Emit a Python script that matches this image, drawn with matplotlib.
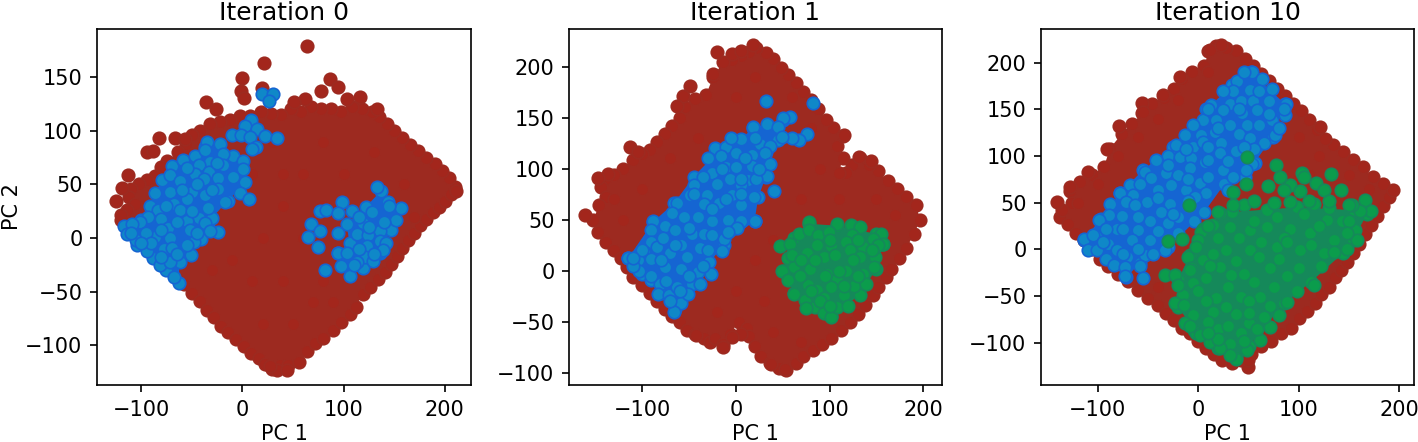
"""Three PCA scatter panels: cluster labels at iteration 0, 1 and 10."""

import matplotlib
matplotlib.use("Agg")
import matplotlib.pyplot as plt

# Values. The middle of each cloud is too dense to read
# point by point, so *_edge_* lists the dots round its rim in order (the rim is
# also filled) and the plain lists are loose or visible dots.

# --- Iteration 0 ---
it0_red_edge_x = [-120, -113, -105, -98, -90, -82, -74, -66, -58, -50, -42, -35, -28, -21, -14, -6, 2, 9, 16, 22, 29, 37, 45, 56, 64, 72, 80, 90, 98, 106, 112, 119, 126, 134, 141, 147, 153, 158, 164, 170, 176, 182, 188, 194, 200, 206, 210, 204, 197, 190, 182, 174, 166, 158, 150, 143, 135, 128, 118, 108, 98, 88, 78, 68, 58, 48, 38, 28, 18, 8, -2, -12, -22, -32, -42, -50, -56, -64, -74, -80, -86, -94, -102, -110, -112, -106, -114, -120]
it0_red_edge_y = [17, 9, 2, -5, -12, -20, -28, -36, -43, -51, -59, -67, -74, -82, -88, -94, -101, -107, -112, -117, -122, -118, -118, -116, -105, -98, -93, -86, -78, -71, -64, -52, -46, -38, -32, -24, -17, -9, -2, 5, 12, 18, 24, 29, 35, 41, 48, 56, 63, 69, 75, 81, 87, 93, 100, 106, 113, 118, 120, 122, 118, 120, 120, 122, 118, 120, 115, 116, 118, 114, 114, 110, 108, 106, 100, 96, 88, 80, 72, 66, 58, 54, 50, 46, 38, 32, 26, 22]
it0_red_x = [64, 21, 0, -1, 2, 19, -36, -26, -82, -67, -57, -94, -88, -113, -119, -125, 87, 95, 78, 116, 103, 62, 51, 133, 34, 44, 27, 211,
             20, 40, 60, 10, 30, 80, 60, 40, 80, 10, -10, 100, 130, 160, 170, -30, 20, 50, 70, 90, 40, 80]
it0_red_y = [179, 163, 149, 137, 131, 140, 127, 120, 93, 93, 92, 80, 81, 59, 47, 35, 148, 141, 137, 132, 130, 130, 127, 120, -123, -123, -119, 44,
             0, 30, 60, 60, 90, 90, 0, -40, -40, -40, -20, 60, 80, 50, 20, -30, -80, -80, -60, -60, 60, 30]
it0_blue_rim_x = [-117, -100, -91, -86, -79, -69, -59, -47, -37, -22, -9, 1, 3, -14, -30, -24, -41, -51, -62, -63, -75, -88, -104]
it0_blue_rim_y = [11, 17, 30, 42, 54, 67, 73, 77, 85, 88, 77, 72, 52, 35, 19, 6, -1, -16, -22, -42, -30, -19, -6]
it0_blue2_rim_x = [103, 122, 137, 157, 147, 136, 119, 106, 98, 95, 106]
it0_blue2_rim_y = [13, 29, 44, 28, 8, -14, -28, -35, -26, -14, -5]
it0_blue_x = [19, 30, 26, 9, 3, 15, -10, -1, 8, 22, 34, 14, 10, -35, -37, -19, -32, -43, -19, 1, -33, -47, -71, -62, -38, -24, -9, -50, -71, -37, -24, -2, 7, -17, -55, -68, -83, -62, -34, -93, -80, -43, -55, -101, -109, -37, -73, -52, -32, -86, -105, -71, -48, -114, -94, -77, -69, -55, -81, -68, -71,
              133, 144, 152, 99, 77, 83, 95, 108, 128, 68, 65, 77, 119, 136, 113, 124, 75, 136, 123, 142, 95, 121, 113, 133, 82, 129, 139, 103,
              -110, -95, -80, -65, -50, -75, -60, -45, -30, -55, -25, -90, -100, -80, -65, -45, 115, 125, 140, 110, 130, 95, 145, 115]
it0_blue_y = [134, 134, 128, 110, 105, 102, 96, 96, 94, 95, 93, 85, 83, 90, 82, 78, 71, 68, 68, 64, 62, 60, 59, 53, 55, 56, 57, 43, 43, 40, 46, 42, 36, 34, 36, 32, 26, 26, 28, 20, 18, 19, 16, 15, 13, 14, 9, 8, 7, 1, -2, 0, -4, 4, -12, -10, -9, -6, -25, -36, -22,
              48, 34, 17, 34, 25, 26, 23, 25, 24, 13, 1, 7, 14, 7, 4, 3, -8, -3, -7, -5, -14, -18, -22, -14, -30, -21, -11, -14,
              5, 5, 8, 15, 25, 30, 45, 50, 45, 65, 70, -5, -5, -18, -15, 5, -10, 10, 15, -25, -15, 5, 30, 20]

# --- Iteration 1 ---
it1_red_edge_x = [-152, -147, -138, -130, -122, -116, -110, -100, -92, -84, -76, -68, -60, -52, -44, -34, -28, -22, -14, -6, 3, 12, 14, 20, 27, 36, 46, 54, 64, 72, 82, 92, 102, 112, 122, 130, 138, 146, 152, 160, 166, 174, 182, 190, 197, 192, 182, 172, 162, 152, 142, 132, 124, 118, 110, 114, 108, 114, 104, 96, 88, 80, 72, 64, 56, 48, 40, 32, 22, 14, 6, -4, -14, -24, -32, -44, -54, -60, -68, -76, -84, -92, -100, -110, -120, -130, -140, -144, -138, -146]
it1_red_edge_y = [50, 38, 28, 20, 12, 4, -6, -14, -22, -30, -38, -44, -50, -58, -62, -66, -70, -66, -72, -62, -50, -56, -64, -74, -84, -90, -95, -97, -90, -84, -78, -72, -66, -58, -50, -42, -34, -24, -16, -6, 2, 12, 22, 36, 50, 64, 72, 80, 88, 98, 104, 110, 104, 96, 96, 110, 122, 132, 140, 148, 158, 167, 175, 184, 192, 199, 207, 213, 218, 214, 210, 206, 204, 190, 172, 168, 160, 150, 142, 134, 126, 118, 114, 108, 100, 94, 90, 82, 72, 64]
it1_red_x = [-161, -20, -4, 6, 18, -24, -49, -56, -63, -113, -104, -136, -147, 115, 131, 144, -14, 6, -4, -42, 53, 38,
             0, 20, -40, -70, -100, -120, -130, 60, 80, 90, 70, 110, 150, 170, 30, 0, -20, 40, 70, 20, 40]
it1_red_y = [55, 214, 212, 215, 221, 193, 181, 171, 161, 121, 116, 95, 91, 133, 111, 107, -75, -62, -65, -63, -96, -91,
             170, 190, 130, 110, 80, 50, 70, 170, 140, 100, 70, 70, 70, 55, -30, -20, -40, -60, -70, 10, 30]
it1_blue_rim_x = [-115, -88, -66, -45, -20, 5, 18, 50, 45, 32, 24, 20, -13, -45, -65, -80, -100]
it1_blue_rim_y = [12, 48, 66, 92, 116, 128, 140, 148, 128, 92, 72, 49, 25, -11, -38, -22, -3]
it1_blue_x = [32, 82, 58, 50, 76, 67, 60, 41, 20, 18, 33, 45, 49, 5, -22, -11, 26, 37, 17, 0, -16, 31, 37, 17, -11, 0, -25, -35, 33, 13, 22, -45, -6, -20, 6, 19, -4, -31, -49, -63, -34, -18, 5, -68, -55, -40, -25, -8, 5, -88, -76, -65, 1, -90, -47, -34, -13, -91, -59, -38, -15, -84, -98, -70, -29, -115, -104, -91, -52, -76, -103, -40, -27, -59, -91, -81, -47, -38, -83, -71, -59, -66, -63, -51,
              -110, -100, -80, -65, -78, -50, -30, -25, -8, -45, -25, -10, 5, -15, -30, 5, 10, 25, -5, 20, -60, -50, -70, -35, -90, -75, -110]
it1_blue_y = [166, 164, 151, 150, 134, 128, 130, 78, 49, 141, 144, 141, 131, 129, 120, 121, 124, 122, 113, 115, 112, 115, 105, 103, 102, 102, 96, 92, 93, 89, 90, 84, 90, 85, 84, 72, 74, 74, 74, 66, 65, 66, 64, 57, 53, 53, 49, 50, 49, 49, 44, 40, 42, 40, 36, 36, 31, 28, 25, 22, 19, 23, 18, 17, 9, 12, 10, 11, 13, 4, 0, -1, -3, 2, -9, -13, -13, -13, -23, -24, -32, -40, -16, -23,
              5, 20, 10, 25, 32, 42, 20, 35, 38, 75, 60, 70, 75, 100, 110, 90, 110, 100, 130, 130, -20, -5, -30, 5, -5, -10, 12]
it1_green_rim_x = [50, 62, 78, 108, 150, 157, 150, 132, 102, 76, 62]
it1_green_rim_y = [0, 32, 46, 44, 36, 26, 2, -24, -44, -35, -22]
it1_green_x = [47, 78, 108, 123, 133, 155, 67, 78, 88, 99, 124, 146, 157, 58, 87, 102, 118, 136, 152, 56, 76, 94, 106, 122, 133, 149, 62, 49, 79, 97, 118, 136, 147, 56, 77, 108, 126, 139, 62, 87, 102, 74, 94, 115, 85, 94, 102, 108, 75,
               60, 68, 85, 100, 130, 145, 110, 125, 90, 115, 130, 70, 95, 80, 100, 120]
it1_green_y = [24, 48, 46, 45, 43, 36, 36, 40, 35, 38, 35, 31, 26, 26, 25, 24, 28, 23, 25, 12, 17, 13, 15, 20, 13, 13, 4, 0, 2, -3, 0, -3, 4, -9, -14, -8, -15, -13, -23, -19, -16, -29, -27, -24, -36, -41, -45, -36, -37,
               15, -5, 10, 30, 30, 20, 0, 10, -30, -15, -5, 10, -5, -20, -35, -35]

# --- Iteration 10 ---
it10_red_edge_x = [-138, -130, -122, -114, -106, -98, -90, -80, -70, -60, -50, -40, -32, -24, -16, -8, 0, 8, 16, 24, 34, 42, 52, 62, 72, 82, 92, 100, 108, 116, 122, 130, 136, 142, 148, 154, 160, 166, 172, 178, 184, 190, 194, 184, 174, 164, 154, 144, 134, 126, 118, 110, 102, 94, 86, 78, 70, 62, 54, 46, 38, 28, 18, 10, 6, -6, -16, -24, -34, -46, -56, -66, -76, -88, -94, -106, -118, -128, -126, -136]
it10_red_edge_y = [35, 27, 18, 10, 0, -10, -18, -26, -34, -44, -52, -60, -68, -76, -84, -90, -98, -106, -112, -118, -122, -118, -112, -104, -98, -90, -84, -74, -66, -58, -48, -40, -30, -22, -14, -4, 6, 16, 26, 36, 46, 56, 64, 70, 78, 88, 96, 104, 112, 118, 128, 138, 148, 156, 164, 172, 180, 188, 196, 204, 212, 216, 218, 212, 196, 190, 182, 172, 162, 156, 146, 134, 124, 108, 88, 80, 72, 62, 50, 42]
it10_red_x = [49, 49, -141, -79, -110, -56, -35, -18, -128, 12, 23, 121, -55, -91,
              -80, -60, -40, -100, -120, -20, 10, 100, 120, 150, 170, 110, -40, -60, -20]
it10_red_y = [-126, -119, 51, 132, 83, 157, 165, 185, 67, 214, 219, 131, 147, 108,
              100, 120, 140, 70, 50, 160, 190, 120, 100, 80, 65, 80, -40, -30, -60]
it10_blue_rim_x = [-114, -97, -78, -55, -25, 8, 34, 52, 86, 74, 56, 46, 26, 6, -30, -58, -72, -92]
it10_blue_rim_y = [10, 33, 60, 85, 110, 150, 176, 190, 156, 120, 93, 78, 70, 40, 2, -15, -30, -10]
it10_blue_x = [53, 63, 39, 51, 35, 73, 87, 13, 32, 42, 54, 70, 25, 43, 58, 86, 5, 18, 73, -5, 3, 32, 48, 60, 76, -13, 17, 40, 51, 65, -22, -5, 5, 23, 55, -30, -18, -7, 22, 38, -42, 7, 53, -53, -32, -20, -8, 10, 25, 47, 35, -47, 2, -12, -27, -68, 30, -65, -78, -40, 8, -51, -72, -88, -63, -28, -3, -89, -76, -37, -20, -99, -60, -81, -48, -30, -102, -90, -114, -66, -48, -33, -110, -101, -81, -71, -53, -58, -84, -73, -73, -55,
               -105, -92, -75, -60, -40, -25, -10, -40, -58, -30, -10, 10, 10, 30, 45, -12, 20, 40, 70, -95, -75, -60, -45, -20, -4, 80, 60, 45, 85, 10, 25]
it10_blue_y = [190, 182, 180, 171, 170, 172, 156, 155, 156, 159, 159, 159, 149, 146, 149, 144, 139, 139, 139, 133, 122, 133, 133, 133, 122, 122, 126, 124, 119, 114, 112, 110, 115, 114, 108, 100, 99, 98, 103, 105, 96, 94, 91, 83, 82, 80, 87, 96, 85, 85, 78, 76, 71, 64, 69, 69, 64, 58, 60, 64, 60, 51, 51, 49, 47, 49, 56, 37, 36, 40, 35, 31, 21, 22, 30, 28, 14, 6, 11, 10, 10, -1, -1, -1, -1, -8, -6, -18, -17, -19, -29, -31,
               15, 22, 22, 35, 20, 38, 52, 55, 70, 90, 75, 78, 110, 95, 110, 108, 130, 150, 145, 8, -5, 0, -5, 18, 30, 130, 170, 190, 150, 150, 170]
it10_green_rim_x = [34, 98, 155, 168, 154, 144, 112, 85, 50, 38, 20, -4, -20, -20, -8, 5]
it10_green_rim_y = [40, 45, 42, 38, 10, -4, -35, -58, -104, -115, -106, -86, -62, -32, -6, 22]
it10_green_x = [48, 77, 81, 103, 105, 132, 47, 69, 91, 117, 142, 35, 22, -9, -16, -30, -33, -23, 166, 172, 161, 153, 156, 158, 148, 128, 143, 115, 91, 68, 45, 35, 101, 125, 85, 51, 32, 15, 3, 0, 68, 91, 111, 135, 125, 101, 78, 51, 28, 5, -10, -7, 22, 45, 71, 88, 115, -15, -5, 8, 18, 42, 61, 88, -23, -5, 15, 38, 71, -13, -2, 20, 50, 71, 12, 32, 61, 48, 38, 32, 22,
                20, 55, 78, 105, 130, 150, 10, 40, 62, 85, 120, 148, 20, -2, 15, 38, 60, 88, 112, 135, -8, 12, 33, 55, 80, 100, 122, -20, 0, 30, 50, 75, 98, -14, 8, 28, 50, 65, 80, -8, 10, 30, 42, 58, 2, 20, 45, 10,
                55, 75, 110, 130, 150]
it10_green_y = [99, 90, 77, 82, 78, 81, 70, 68, 69, 71, 64, 61, 39, 47, 11, 9, -27, -27, 53, 41, 41, 47, 21, 10, 0, 31, 30, 49, 51, 42, 47, 47, 62, 64, 64, 21, 24, 26, 19, 10, 24, 22, 17, 10, -4, -1, 3, -1, -1, -11, -8, -20, -19, -26, -20, -29, -38, -49, -36, -31, -52, -51, -51, -56, -58, -70, -67, -69, -61, -79, -90, -85, -79, -83, -99, -101, -97, -108, -117, -113, -106,
                40, 30, 35, 38, 44, 30, 25, 12, 8, 12, 25, 18, 12, 2, -5, -12, -8, 8, 5, -3, -22, -18, -28, -35, -10, -20, -18, -38, -45, -40, -55, -40, -45, -60, -55, -62, -68, -72, -70, -82, -78, -82, -90, -85, -92, -96, -98, -90,
                52, 50, 52, 52, 48]

red_face, red_edge = "#a3261c", "#9d2a20"
blue_face, blue_edge = "#0f88c8", "#1565d2"
green_face, green_edge = "#0b9c4c", "#15895a"


def draw_group(ax, rims, x, y, face, edge):
    # rim goes in as a filled shape and as dots, loose dots on top
    for rx, ry in rims:
        ax.fill(rx, ry, color=edge, lw=0)
        ax.scatter(rx, ry, s=36, c=face, edgecolors=edge, linewidths=0.8)
    ax.scatter(x, y, s=36, c=face, edgecolors=edge, linewidths=0.8)


def main():
    # default matplotlib sizes at dpi 150 match the reference text and ticks
    fig, axes = plt.subplots(1, 3, figsize=(1418 / 150, 442 / 150), dpi=150)
    boxes = [(97, 471), (569, 942), (1041, 1414)]
    limits = [((-143.6, 226), (-137, 195)),
              ((-178, 220), (-112, 236.8)),
              ((-156.6, 214.7), (-145.3, 236))]

    # Iteration 0
    draw_group(axes[0], [(it0_red_edge_x, it0_red_edge_y)], it0_red_x, it0_red_y, red_face, red_edge)
    draw_group(axes[0], [(it0_blue_rim_x, it0_blue_rim_y), (it0_blue2_rim_x, it0_blue2_rim_y)],
               it0_blue_x, it0_blue_y, blue_face, blue_edge)
    # Iteration 1
    draw_group(axes[1], [(it1_red_edge_x, it1_red_edge_y)], it1_red_x, it1_red_y, red_face, red_edge)
    draw_group(axes[1], [(it1_blue_rim_x, it1_blue_rim_y)], it1_blue_x, it1_blue_y, blue_face, blue_edge)
    draw_group(axes[1], [(it1_green_rim_x, it1_green_rim_y)], it1_green_x, it1_green_y, green_face, green_edge)
    # Iteration 10
    draw_group(axes[2], [(it10_red_edge_x, it10_red_edge_y)], it10_red_x, it10_red_y, red_face, red_edge)
    draw_group(axes[2], [(it10_blue_rim_x, it10_blue_rim_y)], it10_blue_x, it10_blue_y, blue_face, blue_edge)
    draw_group(axes[2], [(it10_green_rim_x, it10_green_rim_y)], it10_green_x, it10_green_y, green_face, green_edge)

    titles = ["Iteration 0", "Iteration 1", "Iteration 10"]
    for ax, (l, r), (xl, yl), title in zip(axes, boxes, limits, titles):
        ax.set_position([l / 1418, 1 - 385 / 442, (r - l) / 1418, 356 / 442])
        ax.set_xlim(xl)
        ax.set_ylim(yl)
        ax.set_title(title, pad=4.5)
        ax.set_xlabel("PC 1", labelpad=2)
    axes[0].set_ylabel("PC 2", labelpad=1.5)

    fig.savefig("out.png", dpi=150)


if __name__ == "__main__":
    main()
